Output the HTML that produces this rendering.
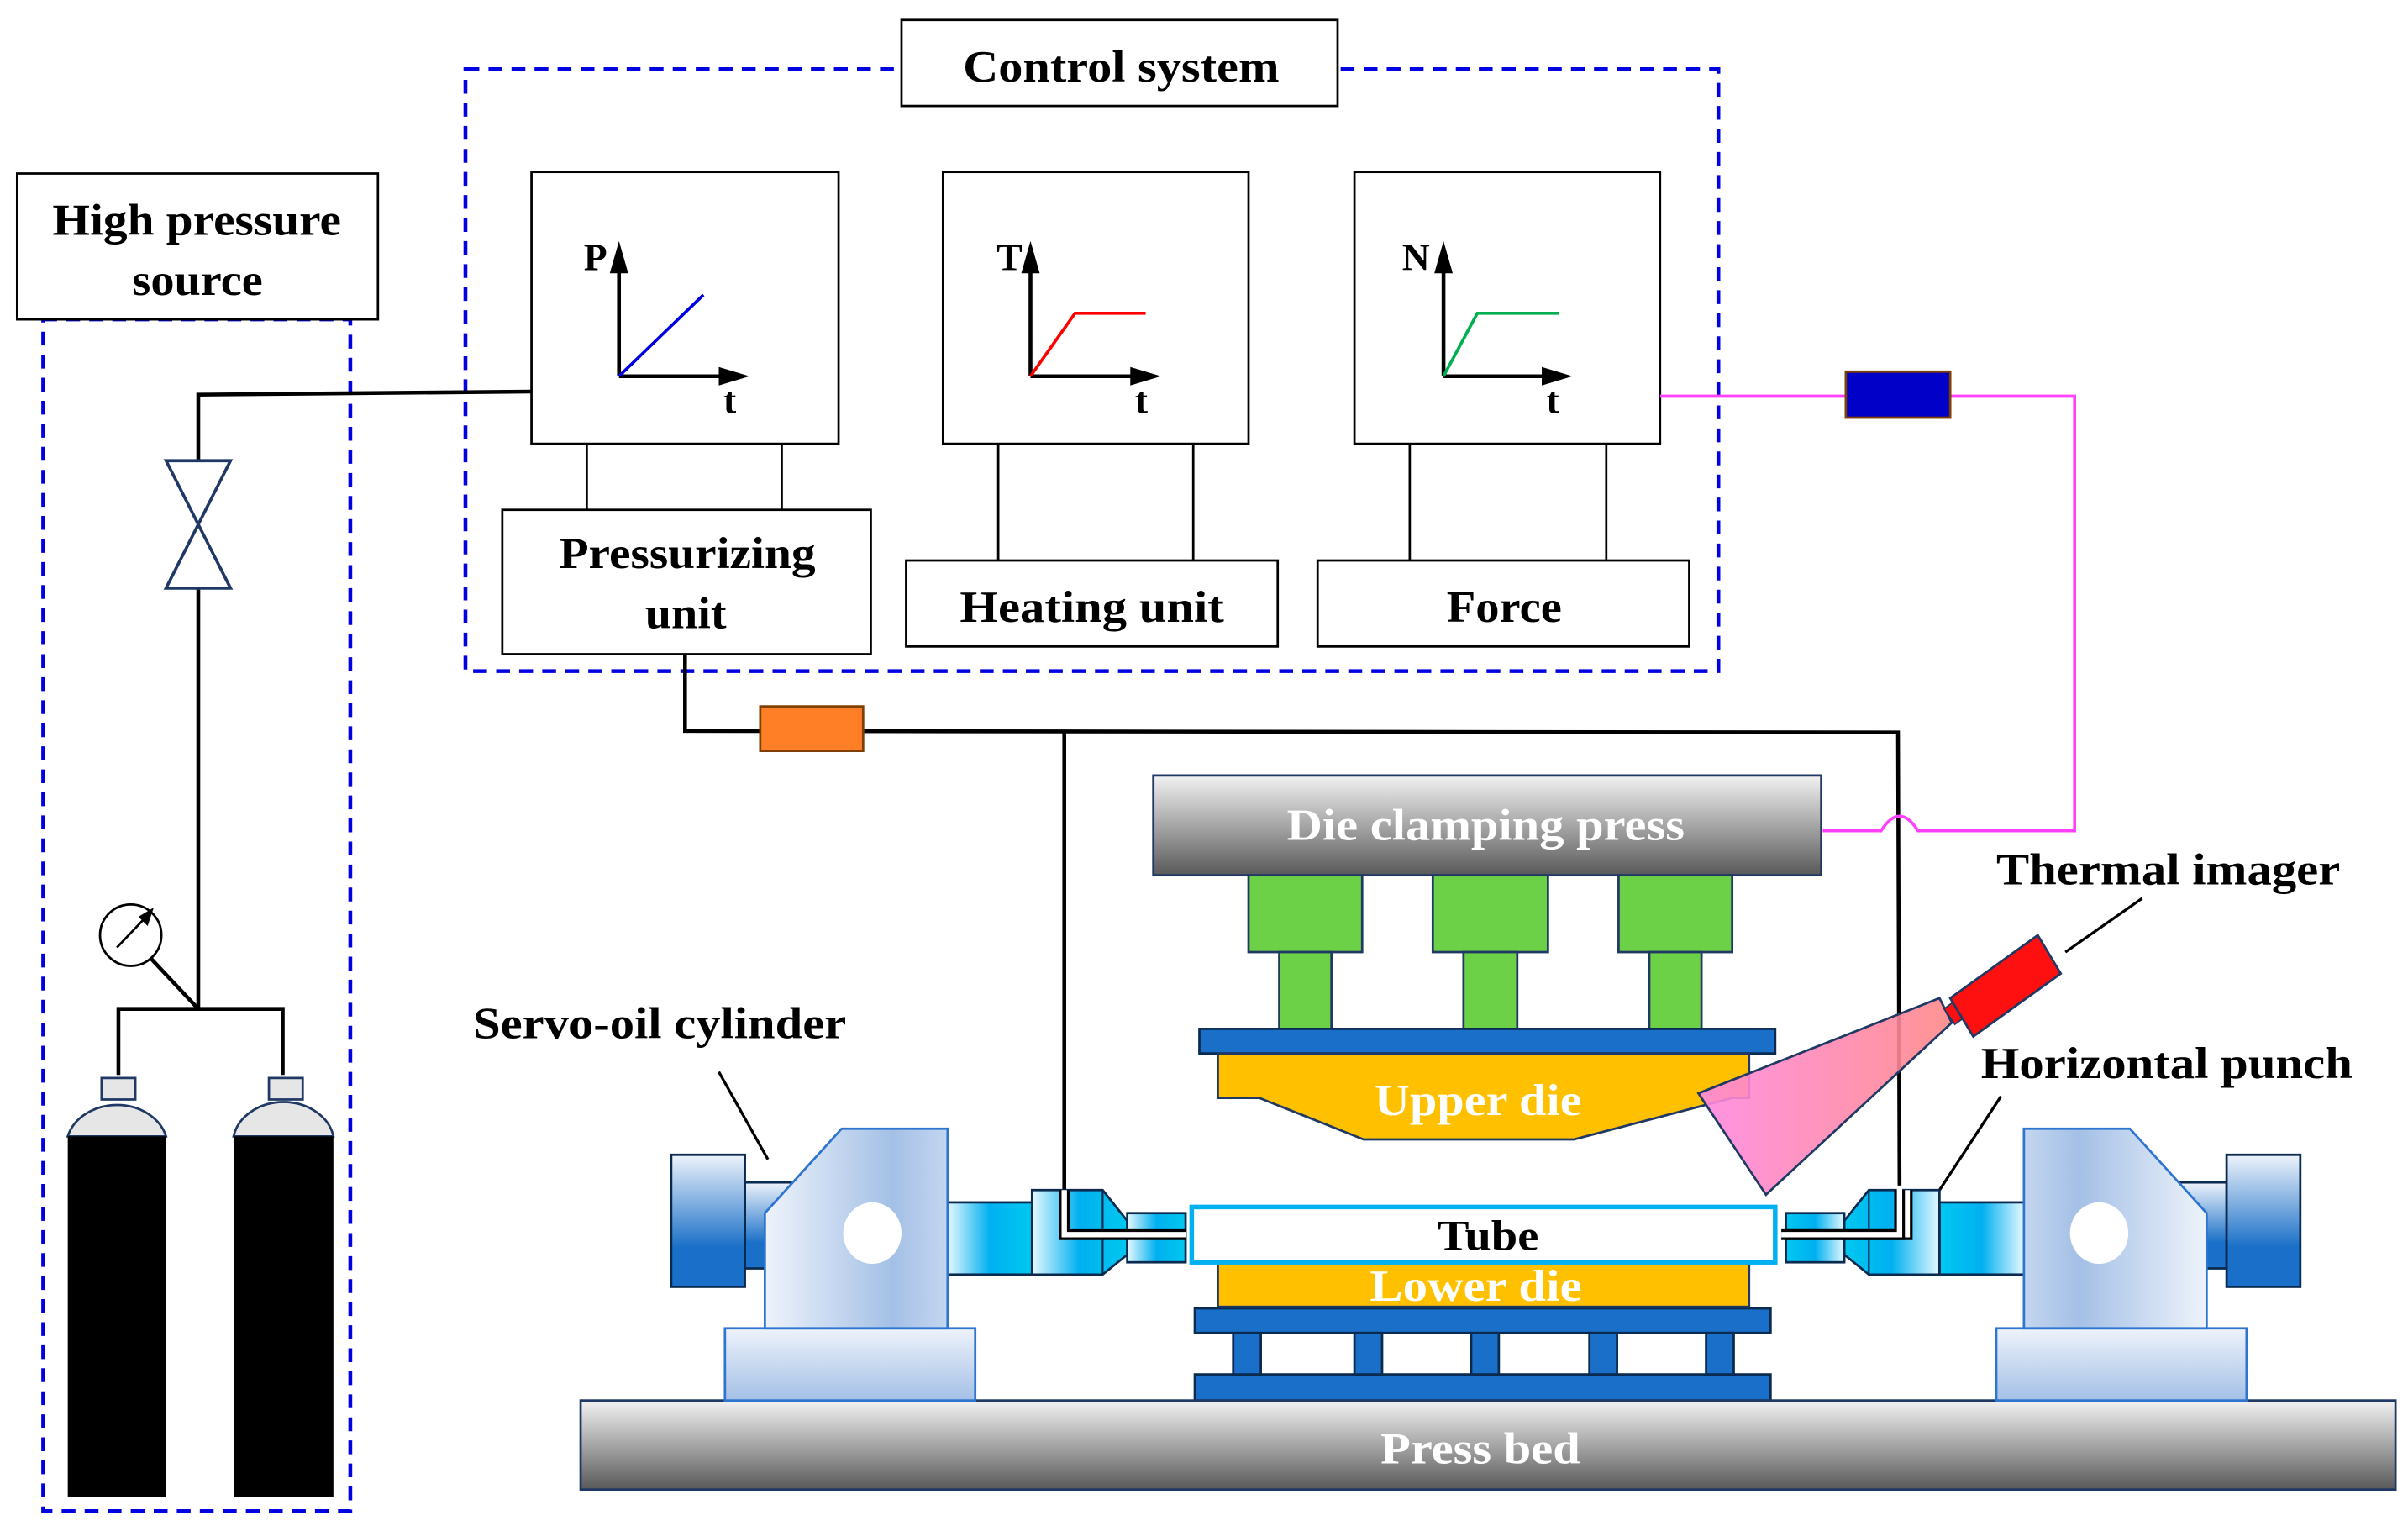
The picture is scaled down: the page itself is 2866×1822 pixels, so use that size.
<!DOCTYPE html>
<html><head><meta charset="utf-8"><style>html,body{margin:0;padding:0;background:#fff}svg{display:block}</style></head><body>
<svg xmlns="http://www.w3.org/2000/svg" width="2866" height="1822" viewBox="0 0 1568 997" font-family="Liberation Serif, serif" font-weight="bold">
<defs>
<linearGradient id="gray" x1="0" y1="0" x2="0" y2="1"><stop offset="0" stop-color="#f2f2f2"/><stop offset="0.5" stop-color="#a6a6a6"/><stop offset="1" stop-color="#595959"/></linearGradient>
<linearGradient id="lb" x1="0" y1="0" x2="1" y2="0"><stop offset="0" stop-color="#eef3fb"/><stop offset="0.7" stop-color="#a4c0e6"/><stop offset="1" stop-color="#c4d6f0"/></linearGradient>
<linearGradient id="lbv" x1="0" y1="0" x2="0" y2="1"><stop offset="0" stop-color="#eef3fb"/><stop offset="1" stop-color="#a4c0e6"/></linearGradient>
<linearGradient id="fl" x1="0" y1="0" x2="0" y2="1"><stop offset="0" stop-color="#eef3fb"/><stop offset="0.7" stop-color="#1a70c8"/><stop offset="1" stop-color="#1a70c8"/></linearGradient>
<linearGradient id="cy" x1="0" y1="0" x2="1" y2="0"><stop offset="0" stop-color="#e6f8ff"/><stop offset="0.5" stop-color="#00b0f0"/><stop offset="1" stop-color="#00c8f0"/></linearGradient>
<linearGradient id="pk" x1="0" y1="0" x2="1" y2="0"><stop offset="0" stop-color="#ff88e0"/><stop offset="1" stop-color="#ff8888"/></linearGradient>
</defs>
<rect x="303" y="45" width="816" height="392" fill="none" stroke="#0000e0" stroke-width="2.5" stroke-dasharray="9,6"/>
<rect x="28" y="208" width="200" height="776" fill="none" stroke="#0000e0" stroke-width="2.5" stroke-dasharray="9,6"/>
<rect x="587" y="13" width="284" height="56" fill="#fff" stroke="#000" stroke-width="1.5"/>
<text x="627" y="53" font-size="29" textLength="206" lengthAdjust="spacingAndGlyphs">Control system</text>
<rect x="11" y="113" width="235" height="95" fill="#fff" stroke="#000" stroke-width="1.5"/>
<text x="34" y="153" font-size="29" textLength="188" lengthAdjust="spacingAndGlyphs">High pressure</text>
<text x="86" y="192" font-size="29" textLength="85" lengthAdjust="spacingAndGlyphs">source</text>
<g stroke="#000" stroke-width="1.5" fill="#fff">
<rect x="346" y="112" width="200" height="177"/><rect x="614" y="112" width="199" height="177"/><rect x="882" y="112" width="199" height="177"/>
<rect x="327" y="332" width="240" height="94"/><rect x="590" y="365" width="242" height="56"/><rect x="858" y="365" width="242" height="56"/>
</g>
<g stroke="#000" stroke-width="1.5">
<line x1="382" y1="289" x2="382" y2="332"/><line x1="509" y1="289" x2="509" y2="332"/>
<line x1="650" y1="289" x2="650" y2="365"/><line x1="777" y1="289" x2="777" y2="365"/>
<line x1="918" y1="289" x2="918" y2="365"/><line x1="1046" y1="289" x2="1046" y2="365"/>
</g>
<g stroke="#000" stroke-width="2.5">
<line x1="403" y1="245" x2="403" y2="170"/><line x1="403" y1="245" x2="477" y2="245"/>
<line x1="671" y1="245" x2="671" y2="170"/><line x1="671" y1="245" x2="745" y2="245"/>
<line x1="940" y1="245" x2="940" y2="170"/><line x1="940" y1="245" x2="1013" y2="245"/>
</g>
<g fill="#000">
<polygon points="403,157 397,178 409,178"/><polygon points="488,245 468,239 468,251"/>
<polygon points="671,157 665,178 677,178"/><polygon points="756,245 736,239 736,251"/>
<polygon points="940,157 934,178 946,178"/><polygon points="1024,245 1004,239 1004,251"/>
</g>
<polyline points="403,245 458,192" stroke="#0000e0" stroke-width="2" fill="none"/>
<polyline points="671,245 700,204 746,204" stroke="#ff0000" stroke-width="2" fill="none"/>
<polyline points="940,245 962,204 1015,204" stroke="#00b050" stroke-width="2" fill="none"/>
<g font-size="25"><text x="380" y="176">P</text><text x="471" y="269">t</text><text x="649" y="176">T</text><text x="739" y="269">t</text><text x="913" y="176">N</text><text x="1007" y="269">t</text></g>
<g font-size="29">
<text x="364" y="370" textLength="167" lengthAdjust="spacingAndGlyphs">Pressurizing</text>
<text x="420" y="409" textLength="53" lengthAdjust="spacingAndGlyphs">unit</text>
<text x="625" y="405" textLength="172" lengthAdjust="spacingAndGlyphs">Heating unit</text>
<text x="942" y="405" textLength="75" lengthAdjust="spacingAndGlyphs">Force</text>
</g>
<g stroke="#000" stroke-width="2.5" fill="none">
<polyline points="346,255 129,257 129,300"/><line x1="129" y1="383" x2="129" y2="657"/>
<polyline points="77,700 77,657 184,657 184,700"/><line x1="98" y1="624" x2="129" y2="657"/>
<polyline points="446,426 446,476 1236,477 1237,775"/><line x1="693" y1="477" x2="693" y2="775"/>
</g>
<polygon points="108,300 150,300 108,383 150,383" fill="#fff" stroke="#1f3864" stroke-width="2"/>
<circle cx="85" cy="609" r="20" fill="#fff" stroke="#000" stroke-width="1.5"/>
<line x1="76" y1="617" x2="97" y2="595" stroke="#000" stroke-width="1.5"/><polygon points="100,591 90,597 96,603" fill="#000"/>
<g stroke="#1f3864" stroke-width="1.5">
<rect x="66" y="702" width="22" height="14" fill="#e6e6e6"/><rect x="175" y="702" width="22" height="14" fill="#e6e6e6"/>
<path d="M44,740 A33,27 0 0 1 108,740 Z" fill="#e6e6e6"/><path d="M152,740 A33,27 0 0 1 217,740 Z" fill="#e6e6e6"/>
</g>
<rect x="44" y="740" width="64" height="235" fill="#000"/><rect x="152" y="740" width="65" height="235" fill="#000"/>
<rect x="495" y="460" width="67" height="29" fill="#ff7f27" stroke="#7f3f00" stroke-width="1.5"/>
<path d="M1081,258 L1351,258 L1351,541 L1249,541 Q1237,522 1225,541 L1187,541" fill="none" stroke="#ff40ff" stroke-width="2"/>
<rect x="1202" y="242" width="68" height="30" fill="#0000c8" stroke="#7f3f00" stroke-width="1.5"/>
<rect x="751" y="505" width="435" height="65" fill="url(#gray)" stroke="#1f3864" stroke-width="1.5"/>
<text x="838" y="547" font-size="29" fill="#fff" textLength="259" lengthAdjust="spacingAndGlyphs">Die clamping press</text>
<g fill="#6dd147" stroke="#1f3864" stroke-width="1.5">
<rect x="813" y="570" width="74" height="50"/><rect x="833" y="620" width="34" height="50"/>
<rect x="933" y="570" width="75" height="50"/><rect x="953" y="620" width="35" height="50"/>
<rect x="1054" y="570" width="74" height="50"/><rect x="1074" y="620" width="34" height="50"/>
</g>
<g fill="#1a70c8" stroke="#0a2a50" stroke-width="1.5">
<rect x="781" y="670" width="375" height="16"/>
<rect x="778" y="852" width="375" height="16"/><rect x="778" y="895" width="375" height="17"/>
<rect x="803" y="868" width="18" height="27"/><rect x="882" y="868" width="18" height="27"/><rect x="958" y="868" width="18" height="27"/><rect x="1035" y="868" width="18" height="27"/><rect x="1111" y="868" width="18" height="27"/>
</g>
<polygon points="793,686 1139,686 1139,715 1128,715 1025,742 888,742 820,715 793,715" fill="#ffc000" stroke="#1f3864" stroke-width="1.5"/>
<text x="895" y="726" font-size="29" fill="#fff" textLength="135" lengthAdjust="spacingAndGlyphs">Upper die</text>
<rect x="793" y="822" width="346" height="29" fill="#ffc000" stroke="#1f3864" stroke-width="1.5"/>
<rect x="776" y="786" width="380" height="36" fill="#fff" stroke="#00b0f0" stroke-width="3"/>
<text x="936" y="814" font-size="28" textLength="66" lengthAdjust="spacingAndGlyphs">Tube</text>
<text x="892" y="847" font-size="29" fill="#fff" textLength="138" lengthAdjust="spacingAndGlyphs">Lower die</text>
<polygon points="1106,712 1263,650 1271,666 1150,778" fill="url(#pk)" fill-opacity="0.9" stroke="#1f3864" stroke-width="1.5"/>
<polygon points="1266,657 1273,667 1280,662 1274,651" fill="#ff1010" stroke="#1f3864"/>
<polygon points="1270,650 1327,609 1342,634 1285,675" fill="#ff1010" stroke="#1f3864" stroke-width="1.5"/>
<g stroke="#000" stroke-width="1.8"><line x1="1345" y1="620" x2="1395" y2="585"/><line x1="1263" y1="775" x2="1303" y2="714"/><line x1="468" y1="698" x2="500" y2="755"/></g>
<g font-size="29">
<text x="1300" y="576" textLength="224" lengthAdjust="spacingAndGlyphs">Thermal imager</text>
<text x="1290" y="702" textLength="242" lengthAdjust="spacingAndGlyphs">Horizontal punch</text>
<text x="308" y="676" textLength="243" lengthAdjust="spacingAndGlyphs">Servo-oil cylinder</text>
</g>
<rect x="378" y="912" width="1182" height="58" fill="url(#gray)" stroke="#1f3864" stroke-width="1.5"/>
<text x="899" y="953" font-size="29" fill="#fff" textLength="130" lengthAdjust="spacingAndGlyphs">Press bed</text>
<g id="cyl">
<rect x="472" y="865" width="163" height="47" fill="url(#lbv)" stroke="#2e75d0" stroke-width="1.5"/>
<rect x="485" y="770" width="35" height="56" fill="url(#fl)" stroke="#0a2a50" stroke-width="1.5"/>
<rect x="437" y="752" width="48" height="86" fill="url(#fl)" stroke="#0a2a50" stroke-width="1.5"/>
<rect x="617" y="783" width="55" height="47" fill="url(#cy)" stroke="#0a2a50" stroke-width="1.5"/>
<polygon points="498,790 548,735 617,735 617,865 498,865" fill="url(#lb)" stroke="#2e75d0" stroke-width="1.5"/>
<ellipse cx="568" cy="803" rx="19" ry="20" fill="#fff"/>
<polygon points="672,775 718,775 734,795 734,817 718,830 672,830" fill="url(#cy)" stroke="#0a2a50" stroke-width="1.5"/>
<rect x="734" y="790" width="38" height="32" fill="url(#cy)" stroke="#0a2a50" stroke-width="1.5"/>
<line x1="718" y1="775" x2="718" y2="830" stroke="#0a2a50" stroke-width="1.2"/>
<polyline points="693,775 693,804 772,804" fill="none" stroke="#000" stroke-width="7"/>
<polyline points="693,775 693,804 772,804" fill="none" stroke="#fff" stroke-width="3.5"/>
</g>
<use href="#cyl" transform="matrix(-1,0,0,1,1935,0)"/>
<polyline points="1237,775 1237,804 1160,804" fill="none" stroke="#000" stroke-width="7"/>
<polyline points="1237,772 1237,804 1160,804" fill="none" stroke="#fff" stroke-width="3.5"/>
</svg>
</body></html>
